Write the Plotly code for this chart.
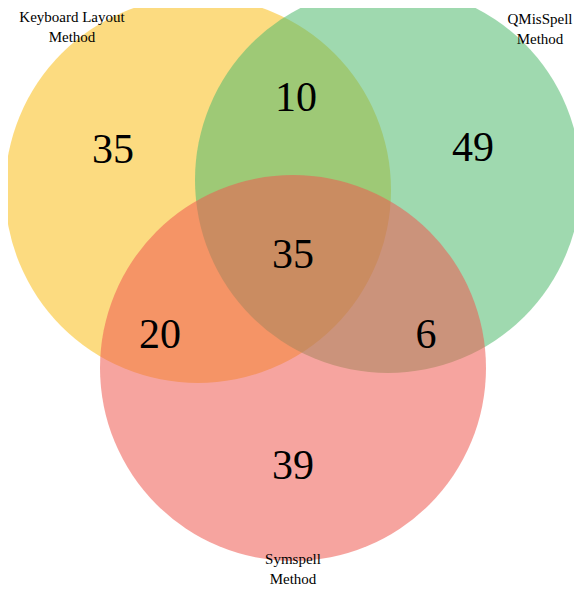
import plotly.graph_objects as go

set_names = ["Keyboard Layout<br>Method", "QMisSpell<br>Method", "Symspell<br>Method"]
region_labels = ["35", "10", "49", "35", "20", "6", "39"]
region_x = [113, 296, 473, 293, 160, 426, 293]
region_y = [152, 100, 150, 257, 337, 337, 468]
circle_cx = [198, 388, 293]
circle_cy = [190, 180, 368]
circle_r = [193, 193, 193]
circle_colors = ["rgba(250,200,60,0.65)", "rgba(80,185,110,0.55)", "rgba(238,90,80,0.55)"]
name_x = [72, 540, 293]
name_y = [28, 30, 570]

fig = go.Figure()
shapes = []
for cx, cy, r, c in zip(circle_cx, circle_cy, circle_r, circle_colors):
    shapes.append(dict(type="circle", xref="x", yref="y", x0=cx - r, x1=cx + r,
                       y0=cy - r, y1=cy + r, fillcolor=c, line=dict(width=0), layer="below"))

fig.add_trace(go.Scatter(x=region_x, y=region_y, text=region_labels, mode="text",
                         textfont=dict(family="Liberation Serif", size=42, color="black"),
                         hoverinfo="skip", cliponaxis=False))
fig.add_trace(go.Scatter(x=name_x, y=name_y, text=set_names, mode="text",
                         textfont=dict(family="Liberation Serif", size=15, color="black"),
                         hoverinfo="skip", cliponaxis=False))
fig.update_layout(width=566, height=578, margin=dict(l=0, r=0, t=0, b=0),
                  plot_bgcolor="white", paper_bgcolor="white", showlegend=False,
                  shapes=shapes,
                  xaxis=dict(range=[8, 574], visible=False),
                  yaxis=dict(range=[586, 8], visible=False))
fig.write_html("out.html")
